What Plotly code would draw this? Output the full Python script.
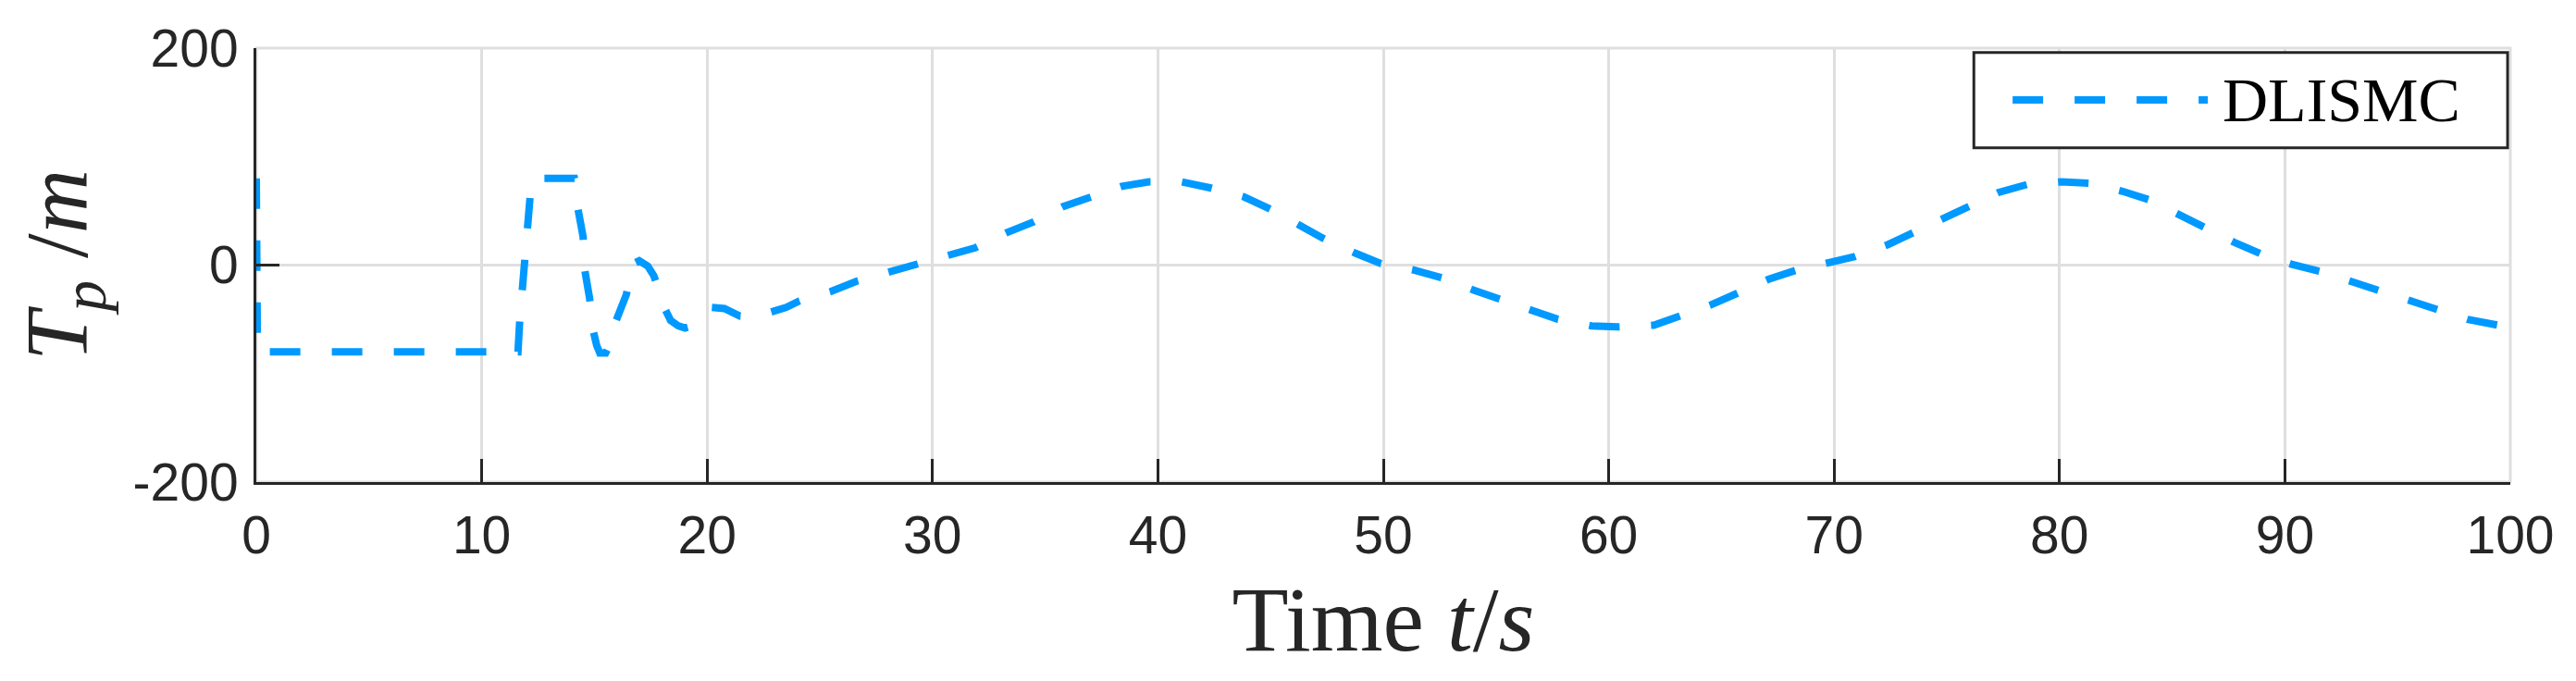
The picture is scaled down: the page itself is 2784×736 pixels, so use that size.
import plotly.graph_objects as go

# time axis (s) and T_p values
time_s = [0, 0.05, 11.5, 11.61, 11.69, 11.79, 11.88, 11.99, 12.09, 12.2, 12.28,
          14.12, 14.2, 14.25, 14.5, 14.56, 14.79, 14.93, 15.1, 15.24, 15.5, 15.6,
          15.93, 16.42, 16.69, 16.99, 17.37, 17.64, 18.1, 18.38, 18.72, 19.02, 19.2,
          20.2, 20.77, 21.45, 22.1, 22.82, 23.5, 24.1, 25.47, 26.65, 28.1, 29.27,
          30.7, 31.9, 33.3, 34.5, 35.8, 37.0, 38.4, 39.6, 41.05, 42.36, 43.8, 45.0,
          46.3, 47.3, 48.8, 49.9, 51.4, 52.6, 54.0, 55.2, 56.5, 57.75, 59.24, 60.4,
          62.0, 63.1, 64.5, 65.7, 67.1, 68.3, 69.7, 70.9, 72.4, 73.5, 74.8, 76.0,
          77.3, 78.6, 80.1, 81.3, 82.8, 84.0, 85.3, 86.5, 87.8, 89.0, 90.3, 91.6,
          92.9, 94.2, 95.5, 96.8, 98.1, 99.45, 100]
tp_values = [80, -80, -80, -80, -50, -22, 6, 35, 62, 76, 80,
             80, 74, 54, 26, -3, -31, -59, -74, -81, -81, -77,
             -53, -27, 1, 4, -1, -10, -39, -51, -56, -58, -57,
             -39, -40, -47, -48, -44, -39, -33, -24.5, -14.7, -6, 1,
             8, 16, 30, 40, 54, 63, 72.6, 76.8, 76.8, 71, 63, 51.5,
             37, 25, 10.6, 1.4, -4.8, -11.8, -23, -31.5, -41, -50, -56, -57,
             -55.4, -47.6, -37, -26, -13, -4.8, 2, 7.8, 19, 30, 43, 55.7,
             67, 74.5, 76.8, 75.4, 68, 60, 46, 34.6, 20.5, 9.8, 0.8, -6,
             -14.7, -24.5, -33, -41, -50, -55.4, -57]

x_ticks = [0, 10, 20, 30, 40, 50, 60, 70, 80, 90, 100]
y_ticks = [-200, 0, 200]
y_tick_text = ['-200', '0', '200']
legend_name = 'DLISMC'

line_blue = '#0099FF'
axis_dark = '#262626'
grid_grey = '#DFDFDF'

fig = go.Figure()
fig.add_trace(go.Scatter(x=time_s, y=tp_values, mode='lines', name=legend_name,
                         line=dict(color=line_blue, width=8, dash='33px,34px'),
                         showlegend=False))

# gray box outline (top/right sides match the grid colour)
fig.add_shape(type='rect', xref='x domain', yref='y domain', x0=0, x1=1, y0=0, y1=1,
              line=dict(color=grid_grey, width=3), layer='below')

# hand-made legend box so the sample line is long like the original
fig.add_shape(type='rect', xref='x domain', yref='y domain',
              x0=0.762, x1=0.9988, y0=0.77, y1=0.99,
              line=dict(color=axis_dark, width=3), fillcolor='white', layer='above')
fig.add_shape(type='line', xref='x domain', yref='y domain',
              x0=0.7792, x1=0.8658, y0=0.8805, y1=0.8805,
              line=dict(color=line_blue, width=8, dash='33px,34px'), layer='above')
fig.add_annotation(xref='x domain', yref='y domain', x=0.8716, y=0.8805,
                   xanchor='left', yanchor='middle', showarrow=False,
                   text=legend_name,
                   font=dict(family='Liberation Serif', size=68, color='black'))

fig.update_xaxes(range=[0, 100], tickvals=x_ticks, ticks='inside', ticklen=25,
                 tickwidth=3, tickcolor=axis_dark, showline=True, linewidth=3,
                 linecolor=axis_dark, showgrid=True, gridcolor=grid_grey, gridwidth=3,
                 zeroline=False, ticklabelstandoff=6,
                 tickfont=dict(family='Liberation Sans', size=57, color=axis_dark),
                 title=dict(text='Time <i>t</i>/<i>s</i>', standoff=24,
                            font=dict(family='Liberation Serif', size=100, color=axis_dark)))
fig.update_yaxes(range=[-200, 200], tickvals=y_ticks, ticktext=y_tick_text,
                 ticks='inside', ticklen=25,
                 tickwidth=3, tickcolor=axis_dark, showline=True, linewidth=3,
                 linecolor=axis_dark, showgrid=True, gridcolor=grid_grey, gridwidth=3,
                 zeroline=False, ticklabelstandoff=5,
                 tickfont=dict(family='Liberation Sans', size=57, color=axis_dark),
                 title=dict(text='<i>T</i><sub><i>p</i></sub> /<i>m</i>', standoff=25,
                            font=dict(family='Liberation Serif', size=96, color=axis_dark)))

fig.update_layout(width=2768, height=720, plot_bgcolor='white', paper_bgcolor='white',
                  margin=dict(l=269, r=63, t=39, b=207))

fig.write_html('out.html')
